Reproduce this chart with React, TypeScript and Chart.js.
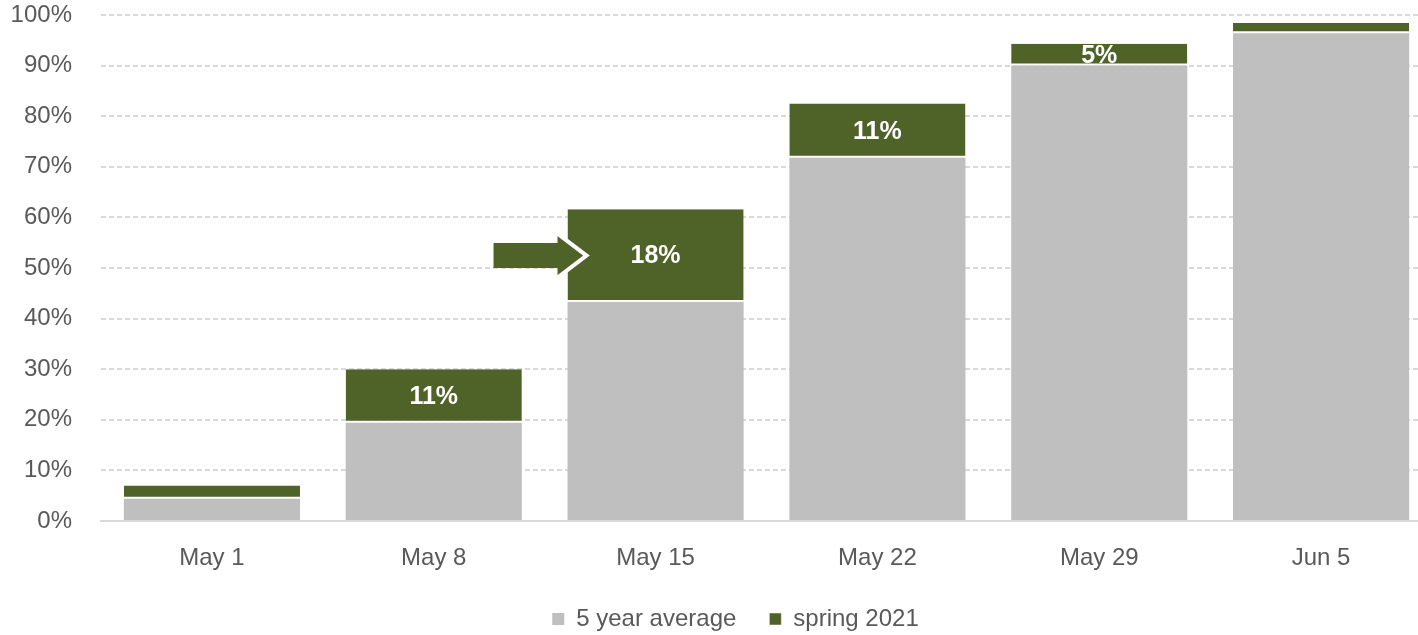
import React, { useEffect, useRef } from "react";
import { Chart, registerables } from "chart.js";

Chart.register(...registerables);

const categories = ["May 1", "May 8", "May 15", "May 22", "May 29", "Jun 5"];
const fiveYearAverage = [4.4, 19.4, 43.3, 71.8, 90.0, 96.4];
const spring2021 = [2.6, 10.6, 18.3, 10.7, 4.3, 2.0];
const springLabels = ["", "11%", "18%", "11%", "5%", ""];
const yTicks = [0, 10, 20, 30, 40, 50, 60, 70, 80, 90, 100];
const arrowIndex = 2;

const GREEN = "#4F6228";
const GRAY = "#BFBFBF";
const TEXT = "#595959";
const FONT = "'Liberation Sans Narrow', 'Arial Narrow', 'Liberation Sans', Arial, sans-serif";

export default function App() {
  const ref = useRef<HTMLCanvasElement | null>(null);

  useEffect(() => {
    if (!ref.current) return;
    const legendShift = {
      id: "legendShift",
      afterLayout(chart: any) {
        const lg = chart.legend;
        if (lg) {
          lg.left += 19.5;
          lg.right += 19.5;
        }
      },
    };
    const labelPlugin = {
      id: "segLabels",
      afterDatasetsDraw(chart: any) {
        const ctx = chart.ctx;
        const meta = chart.getDatasetMeta(1);
        const el = meta.data[arrowIndex] as any;
        if (el) {
          const left = el.x - el.width / 2;
          const cy = (el.y + el.base) / 2;
          const shaftL = left - 74;
          const shaftR = left - 10;
          const tip = left + 19;
          const sh = 12.5;
          const hh = 22;
          ctx.save();
          ctx.beginPath();
          ctx.moveTo(shaftL, cy - sh);
          ctx.lineTo(shaftR, cy - sh);
          ctx.lineTo(shaftR, cy - hh);
          ctx.lineTo(tip, cy);
          ctx.lineTo(shaftR, cy + hh);
          ctx.lineTo(shaftR, cy + sh);
          ctx.lineTo(shaftL, cy + sh);
          ctx.closePath();
          ctx.fillStyle = GREEN;
          ctx.fill();
          ctx.strokeStyle = "#ffffff";
          ctx.lineWidth = 4;
          ctx.lineJoin = "miter";
          ctx.beginPath();
          ctx.moveTo(shaftR, cy - hh);
          ctx.lineTo(tip, cy);
          ctx.lineTo(shaftR, cy + hh);
          ctx.stroke();
          ctx.restore();
        }
        ctx.save();
        ctx.fillStyle = "#ffffff";
        ctx.font = `bold 25px ${FONT}`;
        ctx.textAlign = "center";
        ctx.textBaseline = "middle";
        meta.data.forEach((bar: any, i: number) => {
          const t = springLabels[i];
          if (!t) return;
          ctx.fillText(t, bar.x, (bar.y + bar.base) / 2 + 1);
        });
        ctx.restore();
      },
    };

    const chart = new Chart(ref.current, {
      type: "bar",
      data: {
        labels: categories,
        datasets: [
          {
            label: "5 year average",
            data: fiveYearAverage,
            backgroundColor: GRAY,
            borderWidth: 0,
            categoryPercentage: 1,
            barPercentage: 0.794,
          },
          {
            label: "spring 2021",
            data: spring2021,
            backgroundColor: GREEN,
            borderColor: "#ffffff",
            borderWidth: { top: 0, left: 0, right: 0, bottom: 2 },
            borderSkipped: false,
            categoryPercentage: 1,
            barPercentage: 0.794,
          },
        ],
      },
      plugins: [legendShift, labelPlugin],
      options: {
        animation: false,
        responsive: false,
        maintainAspectRatio: false,
        layout: { padding: { top: 15, right: 8, left: 0, bottom: -6 } },
        plugins: {
          tooltip: { enabled: false },
          legend: {
            position: "bottom",
            labels: {
              color: TEXT,
              font: { family: FONT, size: 24 },
              boxWidth: 12,
              boxHeight: 12,
              padding: 33,
            },
          },
        },
        scales: {
          x: {
            stacked: true,
            afterFit(scale: any) {
              scale.height = 53;
              scale.paddingLeft = 0;
              scale.paddingRight = 0;
            },
            grid: { display: false, drawTicks: false },
            border: { display: true, color: "#D9D9D9", width: 2 },
            ticks: { color: TEXT, font: { family: FONT, size: 24 }, padding: 23 },
          },
          y: {
            stacked: true,
            min: 0,
            max: 100,
            afterFit(scale: any) {
              scale.width = 101;
              scale.paddingTop = 0;
              scale.paddingBottom = 0;
            },
            afterBuildTicks(scale: any) {
              scale.ticks = yTicks.map((v) => ({ value: v }));
            },
            grid: { color: "#D9D9D9", lineWidth: 2, drawTicks: false },
            border: { display: false, dash: [5, 3] },
            ticks: {
              color: TEXT,
              font: { family: FONT, size: 24 },
              padding: 29,
              callback: (v: any) => `${v}%`,
            },
          },
        },
      },
    });
    return () => chart.destroy();
  }, []);

  return (
    <div style={{ position: "fixed", left: 0, top: 0, width: 1418, height: 635, overflow: "hidden", background: "#fff" }}>
      <canvas ref={ref} width={1440} height={635} style={{ display: "block" }} />
    </div>
  );
}
